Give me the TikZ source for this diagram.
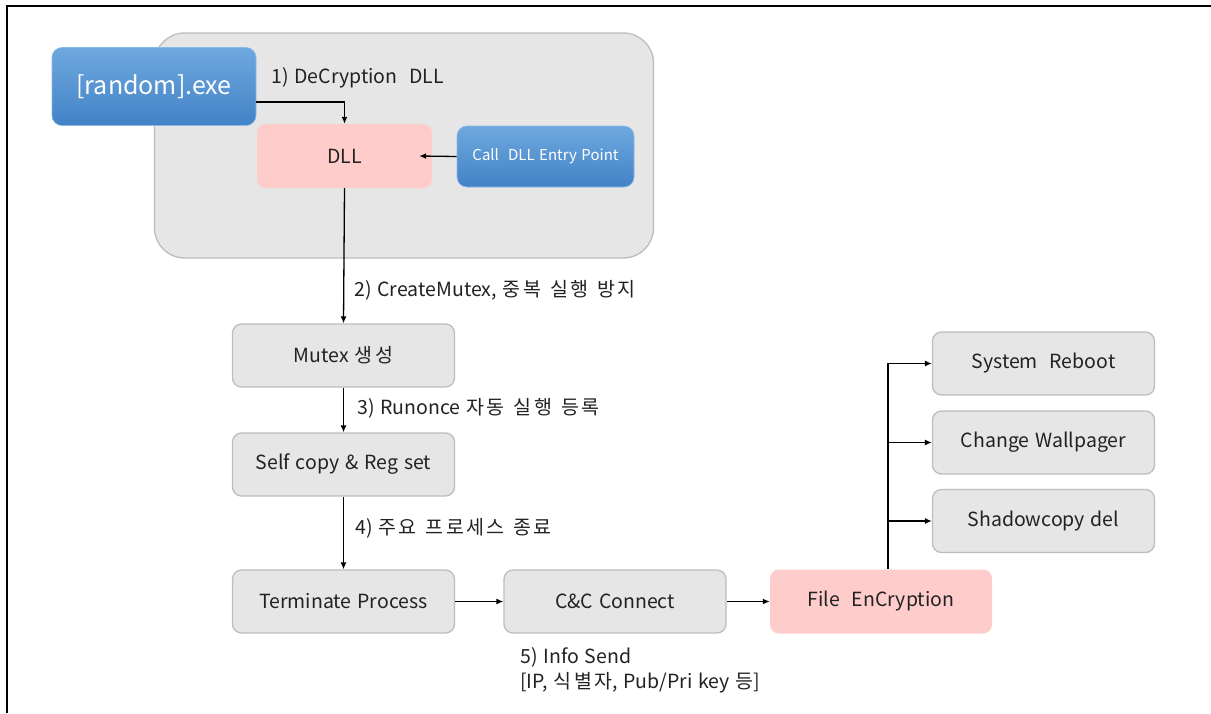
\documentclass[tikz,border=0pt]{standalone}
\usepackage{fontspec}
\setmainfont{Noto Sans CJK KR}[WordSpace=1.35]
\newfontfamily\kr{Noto Sans CJK KR}[WordSpace=1.35, LetterSpace=12]
\usetikzlibrary{arrows.meta}
\definecolor{boxgray}{HTML}{E6E6E6}
\definecolor{boxline}{HTML}{BDBDBD}
\definecolor{pinkfill}{HTML}{FFCCCC}
\definecolor{bluetop}{HTML}{6EA8DE}
\definecolor{bluebot}{HTML}{4282C6}
\definecolor{txt}{HTML}{222222}
\begin{document}
\begin{tikzpicture}[x=1pt,y=-1pt,
  graybox/.style={draw=boxline, line width=1.3pt, fill=boxgray, rounded corners=9pt,
    minimum width=222pt, minimum height=63pt, inner sep=0pt, text=txt,
    font=\fontsize{19.5}{23}\selectfont},
  pinkbox/.style={fill=pinkfill, rounded corners=9pt, inner sep=0pt, text=txt,
    font=\fontsize{19.5}{23}\selectfont},
  bluebox/.style={top color=bluetop, bottom color=bluebot, draw=bluetop!80!white, line width=0.6pt,
    rounded corners=10pt, inner sep=0pt, text=white},
  lbl/.style={anchor=west, inner sep=0pt, text=txt, font=\fontsize{19.5}{23}\selectfont},
  arr/.style={line width=1.3pt, -{Latex[length=7pt,width=6pt]}},
  ln/.style={line width=1.3pt}
]
\useasboundingbox (0,0) rectangle (1211,713);
% outer frame (top and left edges)
\draw[line width=2pt] (7,713) -- (7,6) -- (1211,6);

% grey container
\node[draw=boxline, line width=1.3pt, fill=boxgray, rounded corners=30pt,
  minimum width=499pt, minimum height=225pt, inner sep=0pt] (bg) at (404,145.5) {};

% top nodes
\node[bluebox, minimum width=204pt, minimum height=78pt,
  font=\fontsize{25}{29}\selectfont] (exe) at (154,86.5) {[random].exe};
\node[pinkbox, minimum width=175pt, minimum height=64pt] (dll) at (344.5,156) {DLL};
\node[bluebox, minimum width=177pt, minimum height=61pt,
  font=\fontsize{15}{18}\selectfont] (call) at (545.5,156.5) {Call\ \ DLL Entry Point};

% flow nodes
\node[graybox] (mutex) at (343.5,355.5) {Mutex {\kr 생성}};
\node[graybox] (self) at (343.5,464.5) {Self copy \& Reg set};
\node[graybox] (term) at (343.5,601.5) {Terminate Process};
\node[graybox] (cc) at (615,601.5) {C\&C Connect};
\node[pinkbox, minimum width=222pt, minimum height=64pt] (fe) at (881,601.5) {File\ \ EnCryption};
\node[graybox] (sr) at (1043.5,363.5) {System\ \ Reboot};
\node[graybox] (cw) at (1043.5,442.5) {Change Wallpager};
\node[graybox] (sd) at (1043.5,521) {Shadowcopy del};

% labels
\node[lbl] (l1) at (271,78) {1) DeCryption\ \ DLL};
\node[lbl] (l2) at (354,290) {2) CreateMutex, {\kr 중복 실행 방지}};
\node[lbl] (l3) at (357,408.5) {3) Runonce {\kr 자동 실행 등록}};
\node[lbl] (l4) at (355,528) {4) {\kr 주요 프로세스 종료}};
\node[lbl, align=left, font=\fontsize{19.5}{25}\selectfont] (l5) at (520,670) {5) Info Send\\{}[IP, {\kr 식별자}, Pub/Pri key {\kr 등}]};

% connectors
\draw[arr] ([yshift=-15.5pt]exe.east) -| (dll.north);
\draw[arr] (call.west) -- ([xshift=-13pt]dll.east);
\draw[arr] (dll.south) -- (mutex.north);
\draw[arr] (mutex.south) -- (self.north);
\draw[arr] (self.south) -- (term.north);
\draw[arr] (term.east) -- (cc.west);
\draw[arr] (cc.east) -- (fe.west);
\coordinate (br) at ([xshift=7pt]fe.north);
\draw[arr] (br) |- (sr.west);
\draw[arr] (br |- cw.west) -- (cw.west);
\draw[arr] (br |- sd.west) -- (sd.west);
\end{tikzpicture}
\end{document}
